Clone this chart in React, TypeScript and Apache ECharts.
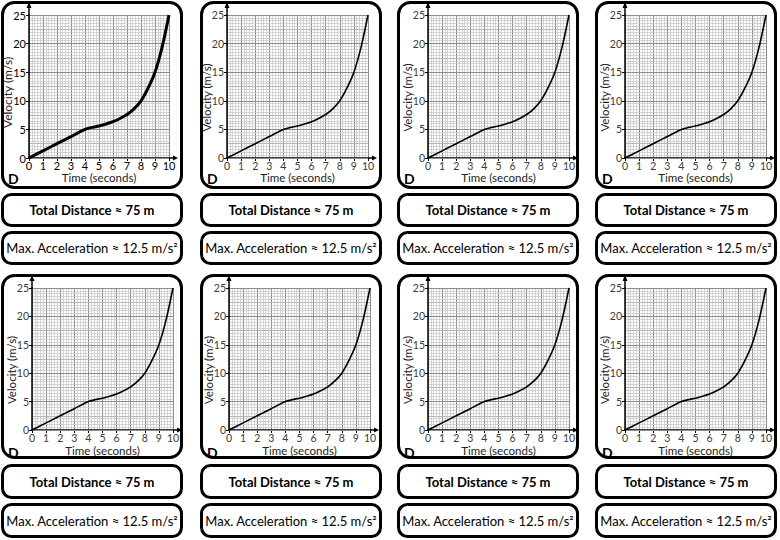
import React, { useEffect, useRef } from 'react';
import * as echarts from 'echarts';

// ---- data ----
const timeSeconds = [0, 1, 2, 3, 4, 4.5, 5, 5.5, 6, 6.5, 7, 7.5, 8, 8.5, 9, 9.5, 10];
const velocity = [0, 1.25, 2.5, 3.75, 5, 5.35, 5.6, 5.95, 6.35, 6.9, 7.6, 8.6, 10, 12.2, 15, 19.3, 25];
const xTickLabels = ['0', '1', '2', '3', '4', '5', '6', '7', '8', '9', '10'];
const yTickLabels = ['0', '5', '10', '15', '20', '25'];
const cardLetter = 'D';
const xAxisTitle = 'Time (seconds)';
const yAxisTitle = 'Velocity (m/s)';
const distanceText = 'Total Distance ≈ 75 m';
const accelerationText = 'Max. Acceleration ≈ 12.5 m/s²';

// ---- layout ----
const W = 780;
const H = 540;
const cardX = [1, 200, 397, 595];
const cardW = 182;
const rows = [
  { chartTop: 1, chartH: 188, distTop: 193, accTop: 231, boxH: 34, plotTop: 15, plotH: 143, letterY: 178, nameGap: 13, lefts: [28, 227, 428, 625] },
  { chartTop: 274, chartH: 185, distTop: 464, accTop: 503, boxH: 35, plotTop: 288, plotH: 142, letterY: 452, nameGap: 14, lefts: [32, 229, 428, 625] },
];
const plotW = 141;
const FONT = 'Lato, "Open Sans", sans-serif';

export default function App() {
  const ref = useRef<HTMLDivElement>(null);

  useEffect(() => {
    if (!ref.current) return;
    const chart = echarts.init(ref.current, undefined, { renderer: 'svg' });

    const grids: any[] = [];
    const xAxes: any[] = [];
    const yAxes: any[] = [];
    const series: any[] = [];
    const graphics: any[] = [];
    const panels: { first: boolean }[] = [];

    const pts = timeSeconds.map((t, i) => [t, velocity[i]]);
    const xMax = Number(xTickLabels[xTickLabels.length - 1]);
    const yMax = Number(yTickLabels[yTickLabels.length - 1]);
    const yStep = Number(yTickLabels[1]) - Number(yTickLabels[0]);

    let idx = 0;
    rows.forEach((r, ri) => {
      cardX.forEach((cx, ci) => {
        const first = ri === 0 && ci === 0;
        panels.push({ first });
        const labelColor = first ? '#000' : '#3a3a3a';
        const labelSize = first ? 11 : 10.5;
        grids.push({ left: r.lefts[ci], top: r.plotTop, width: plotW, height: r.plotH });
        xAxes.push({
          gridIndex: idx,
          type: 'value',
          min: 0,
          max: xMax,
          interval: 1,
          name: xAxisTitle,
          nameLocation: 'middle',
          nameGap: r.nameGap,
          nameMoveOverlap: false,
          nameTextStyle: { fontFamily: FONT, fontSize: 11.5, lineHeight: 12, color: '#222' },
          axisLine: { show: true, onZero: false, lineStyle: { color: '#000', width: 1.5 } },
          axisTick: { show: true, length: 3, lineStyle: { color: '#000', width: 1 } },
          axisLabel: { margin: 2, fontFamily: FONT, fontSize: labelSize, lineHeight: 11, color: labelColor },
          splitLine: { show: true, lineStyle: { color: '#8c8c8c', width: 1 } },
          minorTick: { show: false, splitNumber: 5 },
          minorSplitLine: { show: true, lineStyle: { color: '#c4c4c4', width: 0.7 } },
        });
        yAxes.push({
          gridIndex: idx,
          type: 'value',
          min: 0,
          max: yMax,
          interval: yStep,
          name: yAxisTitle,
          nameLocation: 'middle',
          nameGap: first ? 16 : 15,
          nameMoveOverlap: false,
          nameTextStyle: { fontFamily: FONT, fontSize: first ? 12 : 11.5, color: '#222', padding: [0, first ? 12 : 22, 0, 0] },
          axisLine: { show: true, onZero: false, lineStyle: { color: '#000', width: 1.5 } },
          axisTick: { show: true, length: 3, lineStyle: { color: '#000', width: 1 } },
          axisLabel: { margin: 3, fontFamily: FONT, fontSize: labelSize, color: labelColor },
          splitLine: { show: true, lineStyle: { color: '#8c8c8c', width: 1 } },
          minorTick: { show: false, splitNumber: 10 },
          minorSplitLine: { show: true, lineStyle: { color: '#c4c4c4', width: 0.7 } },
          z: 3,
        });
        yAxes.push({
          gridIndex: idx,
          type: 'value',
          min: 0,
          max: yMax,
          interval: yStep / 2,
          axisLine: { show: false },
          axisTick: { show: false },
          axisLabel: { show: false },
          splitLine: { show: true, lineStyle: { color: '#8c8c8c', width: 1 } },
        });
        series.push({
          type: 'line',
          xAxisIndex: idx,
          yAxisIndex: idx * 2,
          data: pts,
          smooth: 0.3,
          showSymbol: false,
          clip: false,
          lineStyle: { color: '#000', width: first ? 3 : 1.6 },
          z: 5,
        });

        // card boxes
        const boxes = [
          { y: r.chartTop, h: r.chartH, rr: 12 },
          { y: r.distTop, h: r.boxH, rr: 9 },
          { y: r.accTop, h: r.boxH, rr: 9 },
        ];
        boxes.forEach((b) => {
          graphics.push({
            type: 'rect',
            shape: { x: cx + 1.5, y: b.y + 1.5, width: cardW - 3, height: b.h - 3, r: b.rr },
            style: { fill: 'none', stroke: '#000', lineWidth: 3 },
            z: 10,
          });
        });
        graphics.push({
          type: 'text',
          x: cx + 7,
          y: r.letterY,
          style: { text: cardLetter, font: `bold 14px ${FONT}`, fill: '#000', textVerticalAlign: 'middle' },
          z: 10,
        });
        graphics.push({
          type: 'text',
          x: cx + cardW / 2,
          y: r.distTop + r.boxH / 2,
          style: { text: distanceText, font: `bold 13px ${FONT}`, fill: '#000', textAlign: 'center', textVerticalAlign: 'middle' },
          z: 10,
        });
        graphics.push({
          type: 'text',
          x: cx + cardW / 2,
          y: r.accTop + r.boxH / 2,
          style: { text: accelerationText, font: `13px ${FONT}`, fill: '#000', textAlign: 'center', textVerticalAlign: 'middle' },
          z: 10,
        });
        idx++;
      });
    });

    chart.setOption({
      animation: false,
      backgroundColor: '#fff',
      grid: grids,
      xAxis: xAxes,
      yAxis: yAxes,
      series,
    });

    // axis arrows, located from the axis scales
    panels.forEach((_p, i) => {
      const top = chart.convertToPixel({ xAxisIndex: i, yAxisIndex: i * 2 } as any, [0, yMax]) as number[];
      const right = chart.convertToPixel({ xAxisIndex: i, yAxisIndex: i * 2 } as any, [xMax, 0]) as number[];
      const lw = 1.5;
      graphics.push({
        type: 'line',
        shape: { x1: top[0], y1: top[1], x2: top[0], y2: top[1] - 9 },
        style: { stroke: '#000', lineWidth: lw },
        z: 6,
      });
      graphics.push({
        type: 'polygon',
        shape: { points: [[top[0] - 2.5, top[1] - 7], [top[0], top[1] - 13], [top[0] + 2.5, top[1] - 7]] },
        style: { fill: '#000' },
        z: 6,
      });
      graphics.push({
        type: 'line',
        shape: { x1: right[0], y1: right[1], x2: right[0] + 6, y2: right[1] },
        style: { stroke: '#000', lineWidth: lw },
        z: 6,
      });
      graphics.push({
        type: 'polygon',
        shape: { points: [[right[0] + 4, right[1] - 2.5], [right[0] + 9, right[1]], [right[0] + 4, right[1] + 2.5]] },
        style: { fill: '#000' },
        z: 6,
      });
    });

    chart.setOption({ graphic: graphics });

    return () => chart.dispose();
  }, []);

  return <div ref={ref} style={{ position: 'absolute', left: 0, top: 0, width: W, height: H }} />;
}
